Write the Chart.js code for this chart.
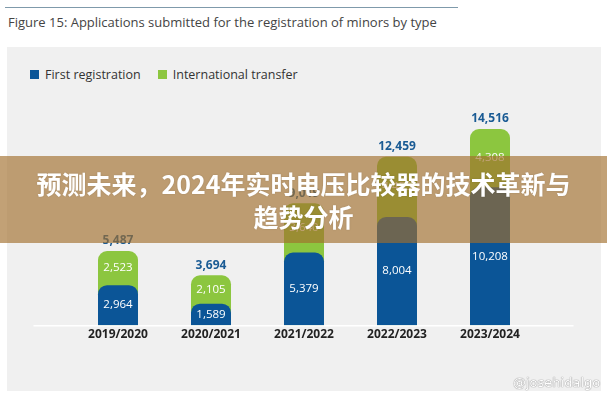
<!DOCTYPE html>
<html>
<head>
<meta charset="utf-8">
<script src="https://cdn.jsdelivr.net/npm/chart.js@4.4.1/dist/chart.umd.min.js"></script>
<style>
  html, body { margin:0; padding:0; background:#fff; }
  body { width:607px; height:400px; position:relative; overflow:hidden; font-family:'Open Sans', sans-serif; }
  .topline { position:absolute; left:5px; top:7px; width:453px; height:1px; background:#7f9aab; }
  .title { position:absolute; left:8px; top:13px; font-size:13px; color:#444; white-space:nowrap; }
  .panel { position:absolute; left:7px; top:47px; width:594px; height:344px; background:#f0f0f0; }
  .legend { position:absolute; left:30px; top:66px; font-size:12.5px; color:#333; display:flex; align-items:center; }
  .legend span.sw { display:inline-block; width:9px; height:9px; margin-right:6px; }
  .legend .item { display:flex; align-items:center; margin-right:17px; }
  #wrap { position:absolute; left:0; top:0; width:607px; height:400px; }
  .banner { position:absolute; left:0; top:156px; width:607px; height:87px; background:rgba(162,110,45,0.65);
    color:#fff; font-family:'Noto Sans CJK SC', sans-serif; font-weight:700; font-size:25px; line-height:33px;
    text-align:center; box-sizing:border-box; padding-top:11px; text-shadow:0 0 2px rgba(0,0,0,0.15); }
  .wm { position:absolute; left:513px; top:375px; font-size:13px; color:#fff; font-family:'DejaVu Sans', sans-serif;
    text-shadow:0 0 1px #888, 0 0 1px #888; }
</style>
</head>
<body>
<div class="topline"></div>
<div class="title">Figure 15: Applications submitted for the registration of minors by type</div>
<div class="panel"></div>
<div class="legend">
  <div class="item"><span class="sw" style="background:#0b5597"></span>First registration</div>
  <div class="item"><span class="sw" style="background:#8cc63f"></span>International transfer</div>
</div>
<div id="wrap"><canvas id="c" width="607" height="400"></canvas></div>
<div class="banner">预测未来，2024年实时电压比较器的技术革新与<br>趋势分析</div>
<div class="wm">@josehidalgo</div>
<script>
const years = ['2019/2020','2020/2021','2021/2022','2022/2023','2023/2024'];
const firstReg = [2964, 1589, 5379, 8004, 10208];
const intlTransfer = [2523, 2105, 3640, 4455, 4308];
const totals = [5487, 3694, 9019, 12459, 14516];

const BLUE = '#0b5597', GREEN = '#8cc63f';
const fmt = v => v.toLocaleString('en-US');

// white base line and value labels
const labelPlugin = {
  id:'labels',
  beforeDatasetsDraw(chart) {
    const {ctx, chartArea, scales} = chart;
    const y0 = scales.y.getPixelForValue(0);
    ctx.save();
    ctx.strokeStyle = '#ffffff';
    ctx.lineWidth = 1.5;
    ctx.beginPath();
    ctx.moveTo(chartArea.left - 38, y0 + 0.5);
    ctx.lineTo(chartArea.right + 37, y0 + 0.5);
    ctx.stroke();
    ctx.restore();
  },
  afterDatasetsDraw(chart) {
    const {ctx, scales} = chart;
    const y = scales.y;
    const blueMeta = chart.getDatasetMeta(0);
    ctx.save();
    ctx.textAlign = 'center';
    ctx.textBaseline = 'middle';
    blueMeta.data.forEach((bar, i) => {
      const x = bar.x;
      const y0 = y.getPixelForValue(0), y1 = y.getPixelForValue(firstReg[i]), y2 = y.getPixelForValue(totals[i]);
      ctx.fillStyle = '#ffffff';
      ctx.font = '11.5px "Open Sans"';
      ctx.fillText(fmt(firstReg[i]), x, (y0 + y1) / 2);
      ctx.fillText(fmt(intlTransfer[i]), x, (y1 + y2) / 2);
      ctx.fillStyle = '#1a5b94';
      ctx.font = 'bold 12px "Open Sans"';
      ctx.fillText(fmt(totals[i]), x, y2 - 10);
    });
    ctx.restore();
  }
};

new Chart(document.getElementById('c'), {
  type:'bar',
  data:{
    labels: years,
    datasets:[
      { label:'First registration', data:firstReg, backgroundColor:BLUE,
        borderRadius:{topLeft:9, topRight:9}, borderSkipped:'bottom' },
      { label:'International transfer', data:totals, backgroundColor:GREEN,
        borderRadius:{topLeft:9, topRight:9}, borderSkipped:'bottom' }
    ]
  },
  options:{
    responsive:false, animation:false,
    layout:{ padding:{ left:71.5, right:70.5, top:109, bottom:55.8 } },
    datasets:{ bar:{ grouped:false, categoryPercentage:1, barPercentage:0.43 } },
    plugins:{ legend:{ display:false }, tooltip:{ enabled:false } },
    scales:{
      x:{ grid:{ display:false, drawTicks:false }, border:{ display:false },
          ticks:{ color:'#222', padding:2.3, font:{ size:12, weight:'bold', family:'Open Sans' } } },
      y:{ display:false, min:0, max:16000 }
    }
  },
  plugins:[labelPlugin]
});
</script>
</body>
</html>
